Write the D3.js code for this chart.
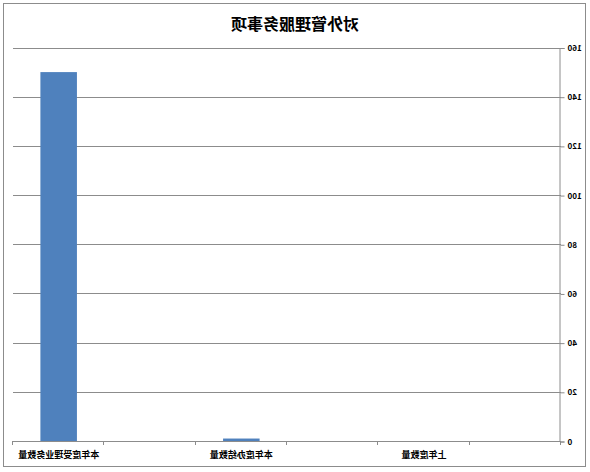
<!DOCTYPE html>
<html>
<head>
<meta charset="utf-8">
<script src="https://cdn.jsdelivr.net/npm/d3@7"></script>
<style>
  body { margin: 0; background: #fff; }
  text { font-family: "Noto Sans CJK SC", "DejaVu Sans", sans-serif; }
</style>
</head>
<body>
<div id="container"></div>
<script>
/** DATA */
const title = "对外管理服务事项";
const categories = ["本年度受理业务数量", "", "本年度办结数量", "", "上年度数量", ""];
const values = [150, 0, 1, 0, 0, 0];
const yTicks = [0, 20, 40, 60, 80, 100, 120, 140, 160];

/** CONSTANTS */
const width = 590, height = 472;
const plot = { left: 29, right: 577, top: 47.5, bottom: 441 };
const barColor = "#4F81BD", gridColor = "#8c8c8c";

const svg = d3.select("#container")
  .append("svg")
  .attr("width", width)
  .attr("height", height);

// the reference picture is mirrored left to right, so flip everything
const g = svg.append("g")
  .attr("transform", `translate(${width},0) scale(-1,1)`);

g.append("rect")
  .attr("x", 4.5).attr("y", 3.5)
  .attr("width", 582).attr("height", 463)
  .attr("fill", "#fff")
  .attr("stroke", "#8c8c8c");

const x = d3.scaleBand()
  .domain(d3.range(categories.length))
  .range([plot.right, plot.left])
  .paddingInner(0.6)
  .paddingOuter(0.3);

const xEdge = d3.scaleBand()
  .domain(d3.range(categories.length))
  .range([plot.right, plot.left]);

const y = d3.scaleLinear()
  .domain([0, 160])
  .range([plot.bottom, plot.top]);

// gridlines
g.selectAll("line.grid")
  .data(yTicks.slice(1))
  .join("line")
  .attr("class", "grid")
  .attr("x1", plot.left).attr("x2", plot.right)
  .attr("y1", d => Math.round(y(d)) + 0.5)
  .attr("y2", d => Math.round(y(d)) + 0.5)
  .attr("stroke", gridColor);

// bars
g.selectAll("rect.bar")
  .data(values)
  .join("rect")
  .attr("class", "bar")
  .attr("x", (d, i) => x(i))
  .attr("width", x.bandwidth())
  .attr("y", d => y(d))
  .attr("height", d => y(0) - y(d))
  .attr("fill", barColor);

// value axis
const yAxis = g.append("g")
  .attr("transform", `translate(${plot.left + 0.5},0.5)`)
  .call(d3.axisLeft(y).tickValues(yTicks).tickSize(4).tickPadding(3));
yAxis.select(".domain").attr("stroke", gridColor);
yAxis.selectAll(".tick line").attr("stroke", gridColor);
yAxis.selectAll(".tick text")
  .attr("font-size", 8)
  .attr("font-weight", "bold")
  .attr("fill", "#000");

// category axis
g.append("line")
  .attr("x1", plot.left).attr("x2", plot.right)
  .attr("y1", plot.bottom + 0.5).attr("y2", plot.bottom + 0.5)
  .attr("stroke", gridColor);

g.selectAll("line.xtick")
  .data(d3.range(categories.length + 1))
  .join("line")
  .attr("class", "xtick")
  .attr("x1", i => Math.round(i < categories.length ? xEdge(i) + xEdge.bandwidth() : plot.left) + 0.5)
  .attr("x2", i => Math.round(i < categories.length ? xEdge(i) + xEdge.bandwidth() : plot.left) + 0.5)
  .attr("y1", plot.bottom).attr("y2", plot.bottom + 4)
  .attr("stroke", gridColor);

g.selectAll("text.xlabel")
  .data(categories)
  .join("text")
  .attr("class", "xlabel")
  .attr("x", (d, i) => xEdge(i) + xEdge.bandwidth() / 2)
  .attr("y", 458)
  .attr("text-anchor", "middle")
  .attr("font-size", 9)
  .attr("font-weight", "bold")
  .text(d => d);

// title
g.append("text")
  .attr("x", width / 2)
  .attr("y", 30)
  .attr("text-anchor", "middle")
  .attr("font-size", 16)
  .attr("font-weight", "bold")
  .text(title);
</script>
</body>
</html>
